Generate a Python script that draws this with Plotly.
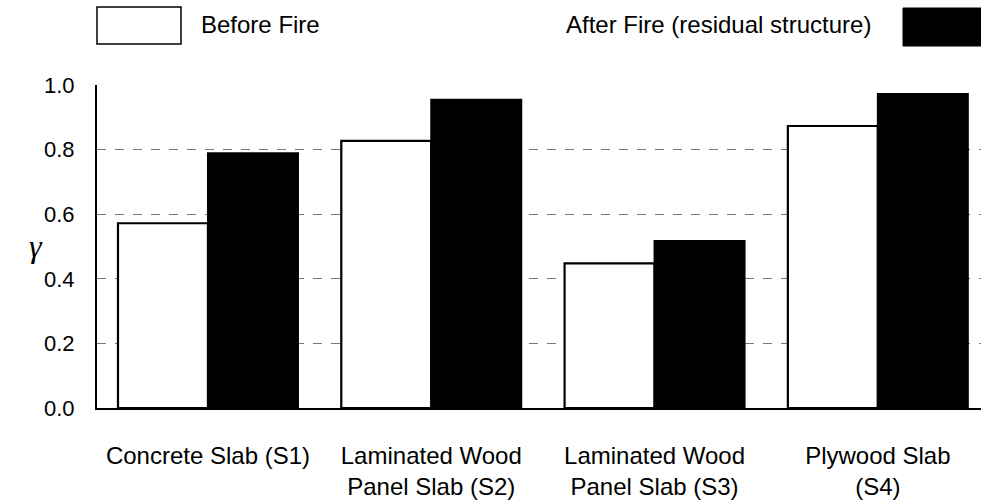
import plotly.graph_objects as go

categories = ["Concrete Slab (S1)", "Laminated Wood<br>Panel Slab (S2)",
              "Laminated Wood<br>Panel Slab (S3)", "Plywood Slab<br>(S4)"]
before_fire = [0.572, 0.827, 0.448, 0.873]
after_fire = [0.789, 0.954, 0.517, 0.972]
y_ticks = [0.0, 0.2, 0.4, 0.6, 0.8, 1.0]
y_tick_text = ["0.0", "0.2", "0.4", "0.6", "0.8", "1.0"]

FONT = "Liberation Sans, Arial, sans-serif"

fig = go.Figure()
fig.add_trace(go.Bar(x=list(range(len(categories))), y=before_fire, name="Before Fire",
                     marker=dict(color="white", line=dict(color="black", width=2.2)),
                     showlegend=False))
fig.add_trace(go.Bar(x=list(range(len(categories))), y=after_fire,
                     name="After Fire (residual structure)",
                     marker=dict(color="black", line=dict(color="black", width=2)),
                     showlegend=False))

fig.update_layout(
    width=981, height=501,
    margin=dict(l=97, r=0, t=85, b=93, autoexpand=False),
    paper_bgcolor="white", plot_bgcolor="white",
    barmode="group", bargap=0.194, bargroupgap=0,
    font=dict(family=FONT, size=22, color="black"),
)
fig.update_xaxes(
    range=[-0.497, 3.462], automargin=False,
    tickmode="array", tickvals=list(range(len(categories))), ticktext=categories,
    showgrid=False, zeroline=False,
    showline=True, linecolor="black", linewidth=2,
    ticks="", ticklabelstandoff=25,
    tickfont=dict(family=FONT, size=24, color="black"),
)
fig.update_yaxes(
    range=[0, 1.0], automargin=False,
    tickmode="array", tickvals=y_ticks, ticktext=y_tick_text,
    showgrid=True, gridcolor="#777", gridwidth=1, griddash="dash",
    zeroline=False,
    showline=True, linecolor="black", linewidth=2,
    ticks="", ticklabelstandoff=16,
    tickfont=dict(family=FONT, size=22, color="black"),
)

# y-axis symbol
fig.add_annotation(xref="paper", yref="paper", x=(36 - 97) / 884, y=(408 - 246) / 323,
                   xanchor="center", yanchor="middle", showarrow=False,
                   text="<i>γ</i>",
                   font=dict(family="Liberation Serif, Times New Roman, serif", size=32, color="black"))

# custom legend
fig.add_shape(type="rect", xref="paper", yref="paper",
              x0=(97 - 97) / 884, x1=(181 - 97) / 884,
              y0=(408 - 44) / 323, y1=(408 - 7) / 323,
              line=dict(color="black", width=1.5), fillcolor="white")
fig.add_annotation(xref="paper", yref="paper", x=(199 - 97) / 884, y=(408 - 24) / 323,
                   xanchor="left", yanchor="middle", showarrow=False,
                   text="Before Fire", font=dict(family=FONT, size=24, color="black"))
fig.add_annotation(xref="paper", yref="paper", x=(873 - 97) / 884, y=(408 - 24) / 323,
                   xanchor="right", yanchor="middle", showarrow=False,
                   text="After Fire (residual structure)",
                   font=dict(family=FONT, size=24, color="black"))
fig.add_shape(type="rect", xref="paper", yref="paper",
              x0=(903 - 97) / 884, x1=1.0,
              y0=(408 - 46) / 323, y1=(408 - 8) / 323,
              line=dict(color="black", width=1), fillcolor="black")

fig.write_html("out.html",
               config={"displayModeBar": False},
               post_script="document.body.style.margin='0';document.body.style.overflow='hidden';")
